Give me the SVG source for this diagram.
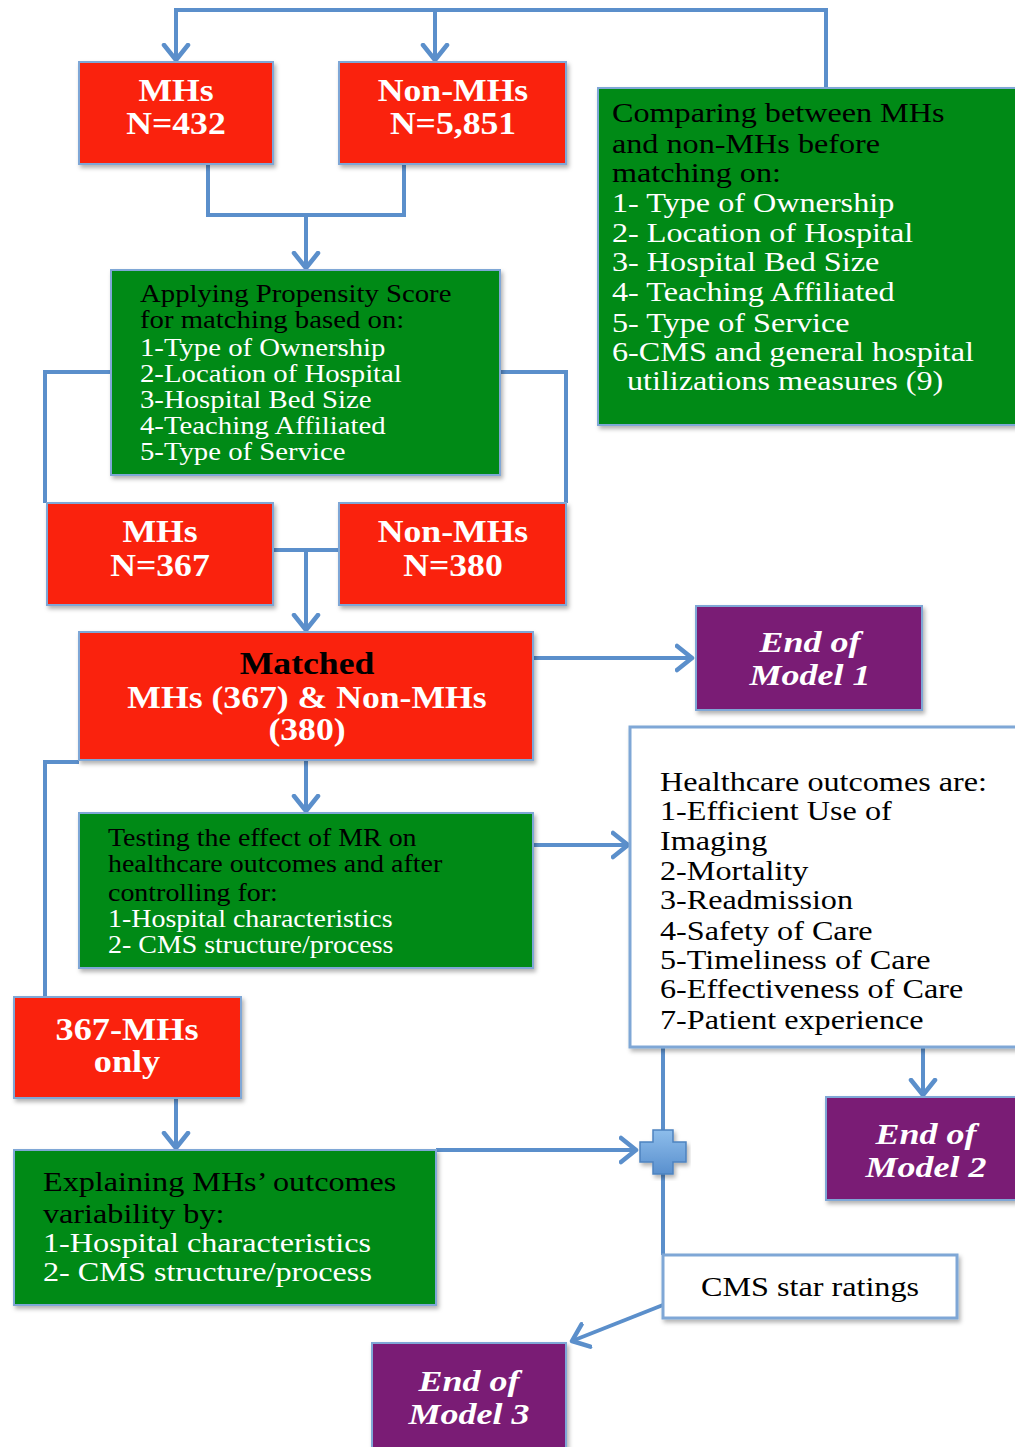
<svg xmlns="http://www.w3.org/2000/svg" width="1015" height="1447" viewBox="0 0 1015 1447">
<style>
.red{fill:#FA2311;stroke:#7FA7D6;stroke-width:2}
.grn{fill:#048A12;stroke:#7FA7D6;stroke-width:2}
.pur{fill:#7A1B74;stroke:#7FA7D6;stroke-width:2}
.wht{fill:#FFFFFF;stroke:#7FA7D6;stroke-width:3}
.t{font-family:"Liberation Serif","Times New Roman",serif}
.rb{font-size:31px;font-weight:bold;fill:#FFFFFF;text-anchor:middle}
.pb{font-size:30px;font-weight:bold;font-style:italic;fill:#FFFFFF;text-anchor:middle}
.blk{fill:#000000}
.w{fill:#FFFFFF}
.con{fill:none;stroke:#5B8FCB;stroke-width:4}
</style>
<defs>
<filter id="sh" x="-5%" y="-5%" width="115%" height="120%">
<feDropShadow dx="2" dy="3" stdDeviation="2" flood-color="#000" flood-opacity="0.3"/>
</filter>
<marker id="ah" markerUnits="userSpaceOnUse" markerWidth="26" markerHeight="30" refX="17" refY="15" orient="auto" viewBox="0 0 26 30">
<path d="M2,3 L17,15 L2,27" fill="none" stroke="#5B8FCB" stroke-width="4.5" stroke-linecap="round" stroke-linejoin="round"/>
</marker>
<linearGradient id="pg" x1="0" y1="0" x2="0" y2="1">
<stop offset="0" stop-color="#8DBDEB"/>
<stop offset="1" stop-color="#5A90CE"/>
</linearGradient>
</defs>

<g id="connectors">
<path class="con" d="M826,88 V10 H176 V60" marker-end="url(#ah)"/>
<path class="con" d="M435,10 V60" marker-end="url(#ah)"/>
<path class="con" d="M208,164 V215 H404 V164"/>
<path class="con" d="M306,215 V268" marker-end="url(#ah)"/>
<path class="con" d="M111,372 H45 V503"/>
<path class="con" d="M500,372 H566 V503"/>
<path class="con" d="M273,550 H339"/>
<path class="con" d="M306,550 V630" marker-end="url(#ah)"/>
<path class="con" d="M533,658 H692" marker-end="url(#ah)"/>
<path class="con" d="M306,760 V811" marker-end="url(#ah)"/>
<path class="con" d="M79,762 H45 V997"/>
<path class="con" d="M533,845 H628" marker-end="url(#ah)"/>
<path class="con" d="M923,1047 V1095" marker-end="url(#ah)"/>
<path class="con" d="M663,1047 V1130"/>
<path class="con" d="M663,1174 V1255"/>
<path class="con" d="M176,1098 V1148" marker-end="url(#ah)"/>
<path class="con" d="M436,1150 H636" marker-end="url(#ah)"/>
<path class="con" d="M663,1305 L572,1341" marker-end="url(#ah)"/>
</g>

<g id="plus">
<path d="M653,1130 H673 V1142 H686 V1162 H673 V1174 H653 V1162 H640 V1142 H653 Z" fill="url(#pg)" stroke="#4E83C0" stroke-width="1.5" filter="url(#sh)"/>
</g>

<g id="mhs1">
<rect class="red" x="79" y="62" width="194" height="102" filter="url(#sh)"/>
<text class="t rb" transform="matrix(1.15 0 0 1 176 0)"><tspan x="0" y="101">MHs</tspan><tspan x="0" y="134">N=432</tspan></text>
</g>

<g id="nonmhs1">
<rect class="red" x="339" y="62" width="227" height="102" filter="url(#sh)"/>
<text class="t rb" transform="matrix(1.15 0 0 1 453 0)"><tspan x="0" y="101">Non-MHs</tspan><tspan x="0" y="134">N=5,851</tspan></text>
</g>

<g id="comparing">
<rect class="grn" x="598" y="88" width="430" height="337" filter="url(#sh)"/>
<text class="t" font-size="28" transform="matrix(1.15 0 0 1 612 0)">
<tspan class="blk" x="0" y="122">Comparing between MHs</tspan>
<tspan class="blk" x="0" y="153">and non-MHs before</tspan>
<tspan class="blk" x="0" y="182">matching on:</tspan>
<tspan class="w" x="0" y="212">1- Type of Ownership</tspan>
<tspan class="w" x="0" y="242">2- Location of Hospital</tspan>
<tspan class="w" x="0" y="271">3- Hospital Bed Size</tspan>
<tspan class="w" x="0" y="301">4- Teaching Affiliated</tspan>
<tspan class="w" x="0" y="332">5- Type of Service</tspan>
<tspan class="w" x="0" y="361">6-CMS and general hospital</tspan>
<tspan class="w" x="13" y="390">utilizations measures (9)</tspan>
</text>
</g>

<g id="applying">
<rect class="grn" x="111" y="270" width="389" height="205" filter="url(#sh)"/>
<text class="t" font-size="25" transform="matrix(1.15 0 0 1 140 0)">
<tspan class="blk" x="0" y="302">Applying Propensity Score</tspan>
<tspan class="blk" x="0" y="328">for matching based on:</tspan>
<tspan class="w" x="0" y="356">1-Type of Ownership</tspan>
<tspan class="w" x="0" y="382">2-Location of Hospital</tspan>
<tspan class="w" x="0" y="408">3-Hospital Bed Size</tspan>
<tspan class="w" x="0" y="434">4-Teaching Affiliated</tspan>
<tspan class="w" x="0" y="460">5-Type of Service</tspan>
</text>
</g>

<g id="mhs2">
<rect class="red" x="47" y="503" width="226" height="102" filter="url(#sh)"/>
<text class="t rb" transform="matrix(1.15 0 0 1 160 0)"><tspan x="0" y="542">MHs</tspan><tspan x="0" y="576">N=367</tspan></text>
</g>

<g id="nonmhs2">
<rect class="red" x="339" y="503" width="227" height="102" filter="url(#sh)"/>
<text class="t rb" transform="matrix(1.15 0 0 1 453 0)"><tspan x="0" y="542">Non-MHs</tspan><tspan x="0" y="576">N=380</tspan></text>
</g>

<g id="matched">
<rect class="red" x="79" y="632" width="454" height="128" filter="url(#sh)"/>
<text class="t rb" transform="matrix(1.15 0 0 1 307 0)"><tspan class="blk" x="0" y="674">Matched</tspan><tspan x="0" y="708">MHs (367) &amp; Non-MHs</tspan><tspan x="0" y="740">(380)</tspan></text>
</g>

<g id="end1">
<rect class="pur" x="696" y="606" width="226" height="104" filter="url(#sh)"/>
<text class="t pb" transform="matrix(1.2 0 0 1 810 0)"><tspan x="0" y="652">End of</tspan><tspan x="0" y="685">Model 1</tspan></text>
</g>

<g id="outcomes">
<rect class="wht" x="630" y="727" width="400" height="320" filter="url(#sh)"/>
<text class="t blk" font-size="26.5" transform="matrix(1.215 0 0 1 660 0)">
<tspan x="0" y="791">Healthcare outcomes are:</tspan>
<tspan x="0" y="820">1-Efficient Use of</tspan>
<tspan x="0" y="850">Imaging</tspan>
<tspan x="0" y="880">2-Mortality</tspan>
<tspan x="0" y="909">3-Readmission</tspan>
<tspan x="0" y="940">4-Safety of Care</tspan>
<tspan x="0" y="969">5-Timeliness of Care</tspan>
<tspan x="0" y="998">6-Effectiveness of Care</tspan>
<tspan x="0" y="1029">7-Patient experience</tspan>
</text>
</g>

<g id="testing">
<rect class="grn" x="79" y="813" width="454" height="155" filter="url(#sh)"/>
<text class="t" font-size="24.3" transform="matrix(1.15 0 0 1 108 0)">
<tspan class="blk" x="0" y="846">Testing the effect of MR on</tspan>
<tspan class="blk" x="0" y="872">healthcare outcomes and after</tspan>
<tspan class="blk" x="0" y="901">controlling for:</tspan>
<tspan class="w" x="0" y="927">1-Hospital characteristics</tspan>
<tspan class="w" x="0" y="953">2- CMS structure/process</tspan>
</text>
</g>

<g id="mhsonly">
<rect class="red" x="14" y="997" width="227" height="101" filter="url(#sh)"/>
<text class="t rb" font-size="30" transform="matrix(1.17 0 0 1 127 0)"><tspan x="0" y="1040">367-MHs</tspan><tspan x="0" y="1072">only</tspan></text>
</g>

<g id="end2">
<rect class="pur" x="826" y="1097" width="200" height="103" filter="url(#sh)"/>
<text class="t pb" transform="matrix(1.2 0 0 1 926 0)"><tspan x="0" y="1144">End of</tspan><tspan x="0" y="1177">Model 2</tspan></text>
</g>

<g id="explaining">
<rect class="grn" x="14" y="1150" width="422" height="155" filter="url(#sh)"/>
<text class="t" font-size="28" transform="matrix(1.15 0 0 1 43 0)">
<tspan class="blk" x="0" y="1191">Explaining MHs’ outcomes</tspan>
<tspan class="blk" x="0" y="1223">variability by:</tspan>
<tspan class="w" x="0" y="1252">1-Hospital characteristics</tspan>
<tspan class="w" x="0" y="1281">2- CMS structure/process</tspan>
</text>
</g>

<g id="cms">
<rect class="wht" x="663" y="1255" width="294" height="63" filter="url(#sh)"/>
<text class="t blk" font-size="28" text-anchor="middle" transform="matrix(1.15 0 0 1 810 0)"><tspan x="0" y="1296">CMS star ratings</tspan></text>
</g>

<g id="end3">
<rect class="pur" x="372" y="1343" width="194" height="110" filter="url(#sh)"/>
<text class="t pb" transform="matrix(1.2 0 0 1 469 0)"><tspan x="0" y="1391">End of</tspan><tspan x="0" y="1424">Model 3</tspan></text>
</g>
</svg>
